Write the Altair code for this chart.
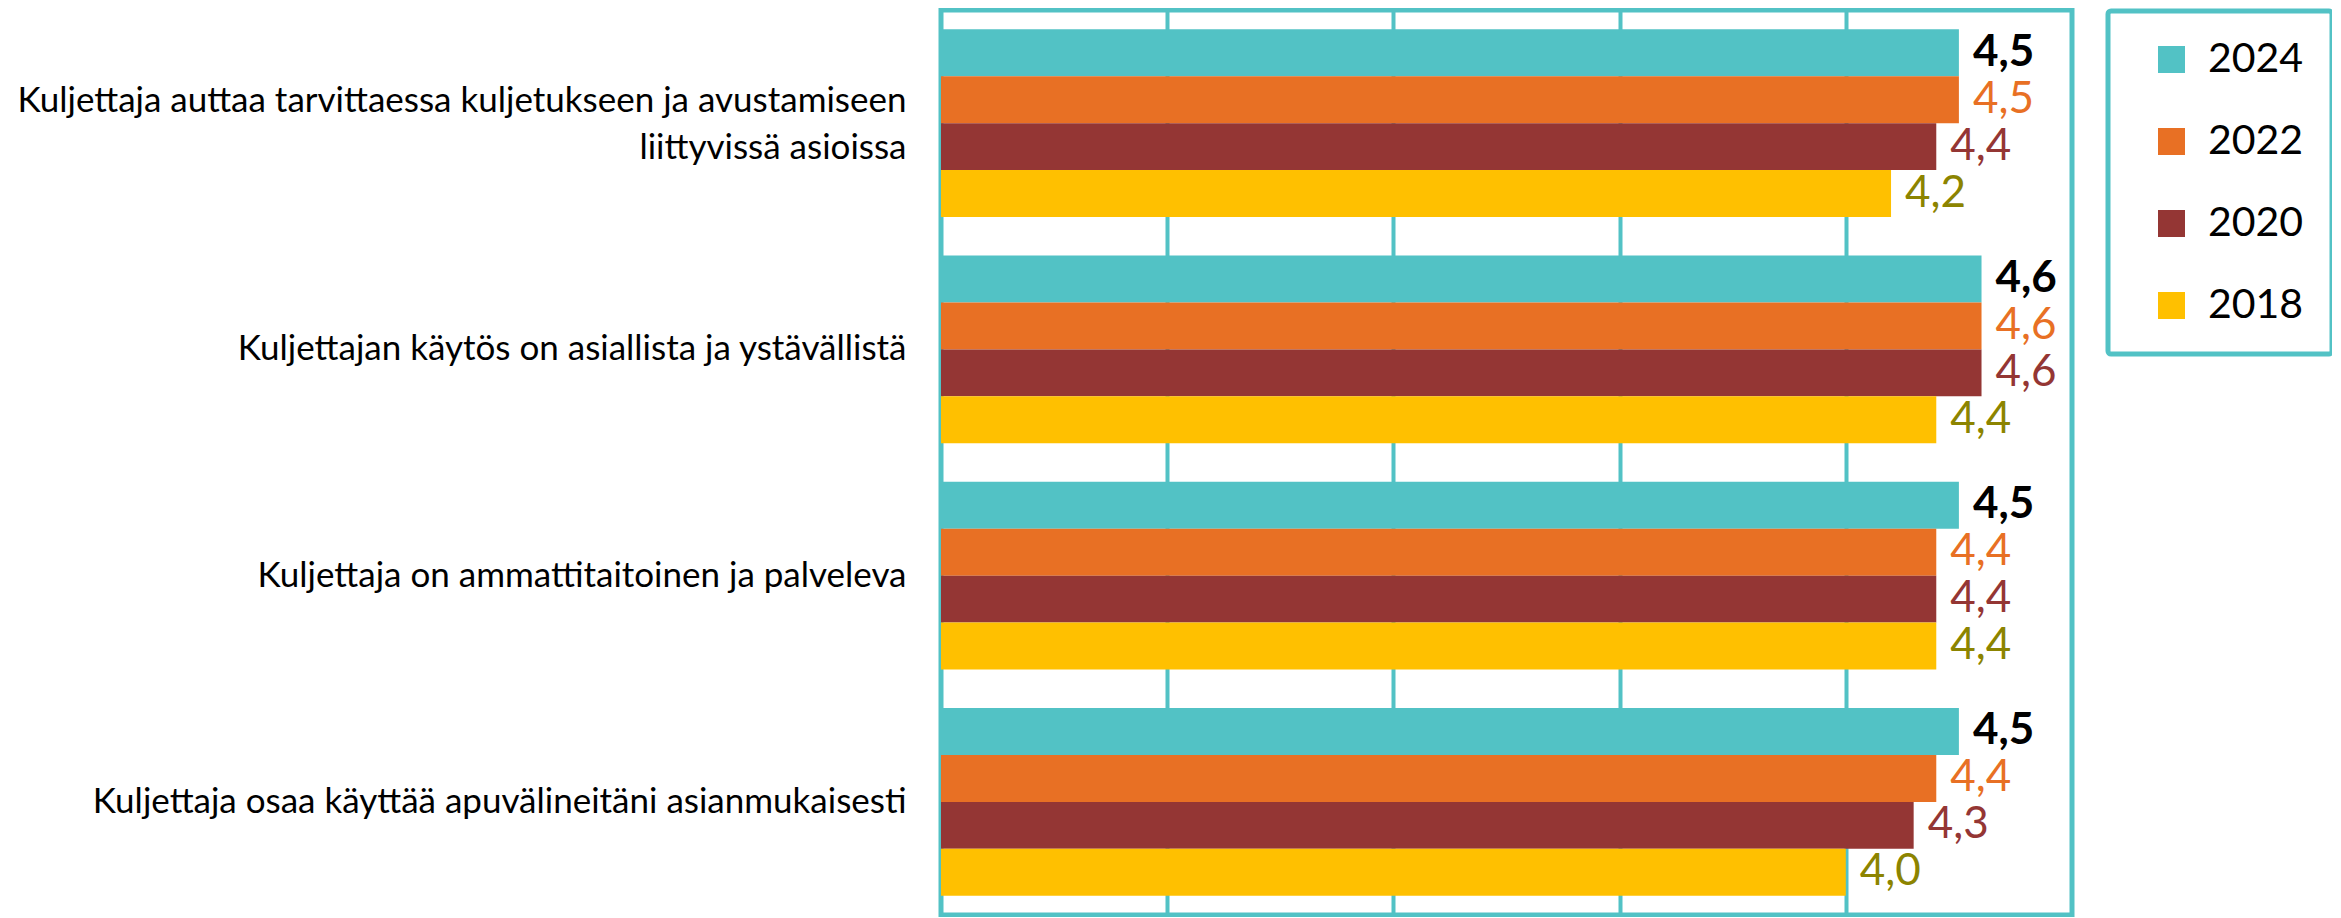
import altair as alt
import pandas as pd

categories = [
    "Kuljettaja auttaa tarvittaessa kuljetukseen ja avustamiseen\nliittyvissä asioissa",
    "Kuljettajan käytös on asiallista ja ystävällistä",
    "Kuljettaja on ammattitaitoinen ja palveleva",
    "Kuljettaja osaa käyttää apuvälineitäni asianmukaisesti",
]
years = ["2024", "2022", "2020", "2018"]
v2024 = [4.5, 4.6, 4.5, 4.5]
v2022 = [4.5, 4.6, 4.4, 4.4]
v2020 = [4.4, 4.6, 4.4, 4.3]
v2018 = [4.2, 4.4, 4.4, 4.0]

bar_colors = ["#52C2C5", "#E87024", "#943634", "#FFC000"]
text_colors = ["#000000", "#E87024", "#943634", "#8C8400"]
TEAL = "#52C2C5"
FONT = "Lato"

series = {"2024": v2024, "2022": v2022, "2020": v2020, "2018": v2018}
rows = []
for y in years:
    for c, v in zip(categories, series[y]):
        rows.append({"cat": c, "year": y, "value": v})
df = pd.DataFrame(rows)

y_enc = alt.Y("cat:N", sort=categories, title=None,
              scale=alt.Scale(paddingInner=0.17, paddingOuter=0.085),
              axis=alt.Axis(labelExpr="split(datum.label, '\\n')", labelFont=FONT,
                            labelFontSize=35, labelColor="#000000", labelPadding=35,
                            labelLineHeight=47, ticks=False, domain=False, grid=False,
                            labelLimit=1000, labelAlign="right", labelBaseline="middle",
                            labelOffset={"condition": {"test": "indexof(datum.label, '\\n') >= 0",
                                                       "value": -22},
                                         "value": 0}))
yoff = alt.YOffset("year:N", sort=years)
x_enc = alt.X("value:Q", title=None,
              scale=alt.Scale(domain=[0, 5], nice=False, zero=True),
              axis=alt.Axis(values=[1, 2, 3, 4], labels=False, ticks=False, domain=False,
                            grid=True, gridColor=TEAL, gridWidth=4, gridOpacity=1))

bars = alt.Chart(df).mark_bar().encode(
    y=y_enc, yOffset=yoff, x=x_enc,
    color=alt.Color("year:N", sort=years,
                    scale=alt.Scale(domain=years, range=bar_colors),
                    legend=alt.Legend(title=None, orient="none", legendX=1167, legendY=1,
                                      symbolType="square", symbolSize=729,
                                      symbolStrokeWidth=0, symbolOffset=15,
                                      labelFont=FONT, labelFontSize=41, labelColor="#000000",
                                      labelOffset=16, rowPadding=40, padding=28,
                                      strokeColor=TEAL, fillColor="#ffffff")),
)

base_text = alt.Chart(df).transform_calculate(
    lab="replace(format(datum.value, '.1f'), '.', ',')"
)
text_enc = dict(
    y=alt.Y("cat:N", sort=categories), yOffset=yoff, x=alt.X("value:Q"),
    text="lab:N",
    color=alt.Color("year:N", sort=years, scale=alt.Scale(domain=years, range=text_colors),
                    legend=None),
)
labels_bold = base_text.transform_filter("datum.year == '2024'").mark_text(
    align="left", baseline="middle", dx=14, font=FONT, fontSize=44, fontWeight="bold"
).encode(**text_enc)
labels_norm = base_text.transform_filter("datum.year != '2024'").mark_text(
    align="left", baseline="middle", dx=14, font=FONT, fontSize=44
).encode(**text_enc)

chart = alt.layer(bars, labels_bold, labels_norm).resolve_scale(color="independent").properties(
    width=1131, height=905,
    background="#ffffff",
    autosize=alt.AutoSizeParams(type="none"),
    padding={"left": 933, "top": 2, "right": 260, "bottom": 2},
).configure_view(stroke=TEAL, strokeWidth=5).configure_legend(
    strokeWidth=5, cornerRadius=3
)

chart.save("out.html", embed_options={"renderer": "svg", "actions": False})
